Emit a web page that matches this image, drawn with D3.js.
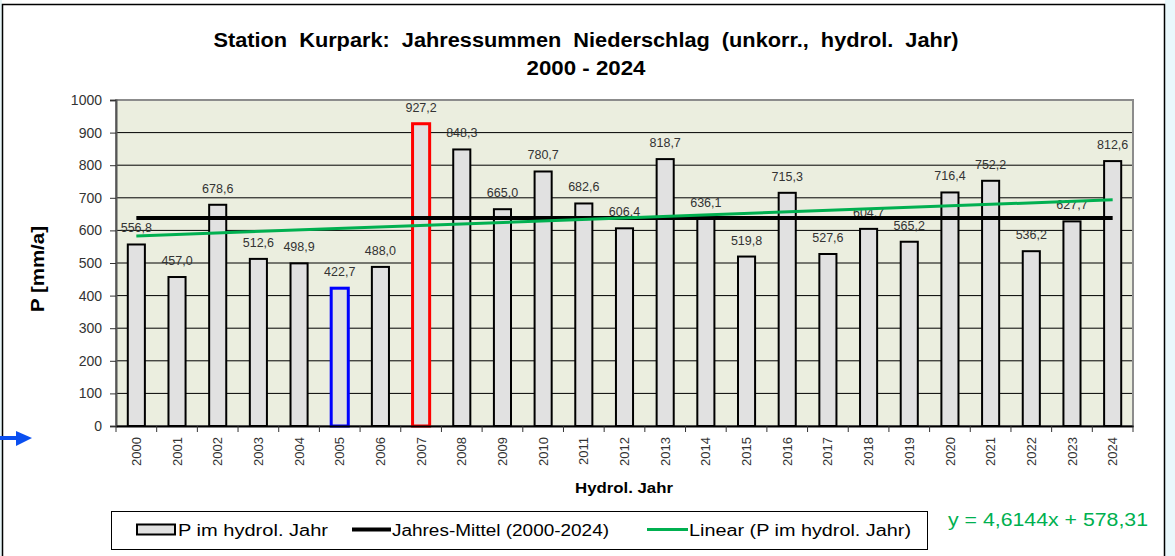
<!DOCTYPE html>
<html>
<head>
<meta charset="utf-8">
<script src="https://cdn.jsdelivr.net/npm/d3@7"></script>
<style>
  body { margin: 0; background: #fff; }
  svg { display: block; font-family: "Liberation Sans", Arial, sans-serif; }
</style>
</head>
<body>
<svg id="chart" width="1175" height="556"></svg>
<script>
// data
const years = d3.range(2000, 2025);
const precip = [556.8, 457.0, 678.6, 512.6, 498.9, 422.7, 488.0, 927.2, 848.3, 665.0,
                780.7, 682.6, 606.4, 818.7, 636.1, 519.8, 715.3, 527.6, 604.7, 565.2,
                716.4, 752.2, 536.2, 627.7, 812.6];
const yTicks = d3.range(0, 1001, 100);
const meanValue = 638.3;           // Jahres-Mittel (2000-2024)
const trendSlope = 4.6144;         // y = 4,6144x + 578,31
const trendIntercept = 578.31;
const highlight = { 2005: '#0000ff', 2007: '#ff0000' };

const data = years.map((y, i) => ({ year: y, value: precip[i] }));

const svg = d3.select('#chart');

// page frame bits from the screenshot
svg.append('rect').attr('x', 1165).attr('y', 0).attr('width', 10).attr('height', 556).attr('fill', '#eaf8fc');
svg.append('rect').attr('x', 0).attr('y', 0).attr('width', 2).attr('height', 556).attr('fill', '#e6f4f6');
svg.append('path').attr('d', 'M2.5,556V4.5H1164.5V556')
    .attr('fill', 'none').attr('stroke', '#000').attr('stroke-width', 1.5);

// blue arrow on the left
svg.append('line').attr('x1', 0).attr('x2', 18).attr('y1', 438).attr('y2', 438)
    .attr('stroke', '#0a4ff0').attr('stroke-width', 4);
svg.append('path').attr('d', 'M16,431L32,438L16,446Z').attr('fill', '#0a4ff0');

// plot area
const plot = { left: 116, right: 1133, top: 100, bottom: 426 };

const x = d3.scaleBand()
    .domain(years)
    .range([plot.left, plot.right])
    .paddingInner(0.58)
    .paddingOuter(0.29);

const y = d3.scaleLinear()
    .domain([0, 1000])
    .range([plot.bottom, plot.top]);

const step = x.step();
const cx = d => x(d) + x.bandwidth() / 2;

svg.append('rect')
    .attr('x', plot.left).attr('y', plot.top)
    .attr('width', plot.right - plot.left).attr('height', plot.bottom - plot.top)
    .attr('fill', '#ebeedf');

// gridlines
svg.append('g')
    .selectAll('line')
    .data(yTicks.filter(t => t > 0 && t < 1000))
    .join('line')
    .attr('x1', plot.left).attr('x2', plot.right)
    .attr('y1', d => y(d)).attr('y2', d => y(d))
    .attr('stroke', '#000').attr('stroke-width', 1);

// plot border
svg.append('rect')
    .attr('x', plot.left).attr('y', plot.top)
    .attr('width', plot.right - plot.left).attr('height', plot.bottom - plot.top)
    .attr('fill', 'none').attr('stroke', '#8c8c8c').attr('stroke-width', 2);

// bars
svg.append('g')
    .selectAll('rect')
    .data(data)
    .join('rect')
    .attr('x', d => x(d.year))
    .attr('y', d => y(d.value))
    .attr('width', x.bandwidth())
    .attr('height', d => y(0) - y(d.value))
    .attr('fill', '#e1e1e1')
    .attr('stroke', d => highlight[d.year] || '#000')
    .attr('stroke-width', d => highlight[d.year] ? 3 : 2);

// value labels
const fmt = d3.formatLocale({ decimal: ',', thousands: '.', grouping: [3], currency: ['', '€'] }).format('.1f');
svg.append('g')
    .selectAll('text')
    .data(data)
    .join('text')
    .attr('x', d => cx(d.year))
    .attr('y', d => y(d.value) - 12)
    .attr('text-anchor', 'middle')
    .attr('font-size', 12.5)
    .attr('fill', '#333')
    .text(d => fmt(d.value));

// mean line
svg.append('line')
    .attr('x1', cx(years[0])).attr('x2', cx(years[years.length - 1]))
    .attr('y1', y(meanValue)).attr('y2', y(meanValue))
    .attr('stroke', '#000').attr('stroke-width', 4);

// linear trend
const trendLine = d3.line()
    .x(d => cx(d))
    .y(d => y(trendSlope * (years.indexOf(d) + 1) + trendIntercept));
svg.append('path')
    .datum([years[0], years[years.length - 1]])
    .attr('d', trendLine)
    .attr('fill', 'none').attr('stroke', '#00b050').attr('stroke-width', 3);

// y axis
const yAxis = svg.append('g')
    .attr('transform', `translate(${plot.left},0)`)
    .call(d3.axisLeft(y).tickValues(yTicks).tickFormat(d3.format('d')).tickSize(6).tickPadding(8));
yAxis.select('.domain').attr('stroke', '#555').attr('stroke-width', 2);
yAxis.selectAll('.tick line').attr('stroke', '#333');
yAxis.selectAll('.tick text').attr('font-size', 14).attr('fill', '#333')
    .attr('font-family', '"Liberation Sans", Arial, sans-serif');

// x axis: labels at band centres, ticks at band edges
const xAxis = svg.append('g')
    .attr('transform', `translate(0,${plot.bottom})`)
    .call(d3.axisBottom(x).tickSize(0).tickPadding(0));
xAxis.select('.domain').attr('stroke', '#000').attr('stroke-width', 2);
xAxis.selectAll('.tick text')
    .attr('font-size', 13).attr('fill', '#333')
    .attr('font-family', '"Liberation Sans", Arial, sans-serif')
    .attr('transform', 'rotate(-90)')
    .attr('text-anchor', 'end')
    .attr('x', -11).attr('y', 0).attr('dy', '0.35em');
svg.append('g')
    .selectAll('line')
    .data(years.concat([null]))
    .join('line')
    .attr('x1', (d, i) => plot.left + i * step).attr('x2', (d, i) => plot.left + i * step)
    .attr('y1', plot.bottom).attr('y2', plot.bottom + 6)
    .attr('stroke', '#333');

// titles
svg.append('text')
    .attr('x', 586).attr('y', 47).attr('text-anchor', 'middle')
    .attr('font-size', 20).attr('font-weight', 'bold')
    .style('white-space', 'pre')
    .attr('textLength', 745).attr('lengthAdjust', 'spacingAndGlyphs')
    .text('Station  Kurpark:  Jahressummen  Niederschlag  (unkorr.,  hydrol.  Jahr)');
svg.append('text')
    .attr('x', 586).attr('y', 75).attr('text-anchor', 'middle')
    .attr('font-size', 20).attr('font-weight', 'bold')
    .attr('textLength', 119).attr('lengthAdjust', 'spacingAndGlyphs')
    .text('2000 - 2024');

svg.append('text')
    .attr('transform', 'translate(44,269) rotate(-90)')
    .attr('text-anchor', 'middle')
    .attr('font-size', 18).attr('font-weight', 'bold')
    .attr('textLength', 86).attr('lengthAdjust', 'spacingAndGlyphs')
    .text('P [mm/a]');

svg.append('text')
    .attr('x', 624).attr('y', 493).attr('text-anchor', 'middle')
    .attr('font-size', 15).attr('font-weight', 'bold')
    .attr('textLength', 98).attr('lengthAdjust', 'spacingAndGlyphs')
    .text('Hydrol. Jahr');

// legend
const legend = svg.append('g');
legend.append('rect')
    .attr('x', 111.5).attr('y', 511.5).attr('width', 816).attr('height', 38)
    .attr('fill', '#fff').attr('stroke', '#000').attr('stroke-width', 1);
legend.append('rect')
    .attr('x', 137).attr('y', 524.5).attr('width', 38).attr('height', 10)
    .attr('fill', '#e1e1e1').attr('stroke', '#000').attr('stroke-width', 2);
legend.append('line').attr('x1', 352).attr('x2', 391).attr('y1', 529.5).attr('y2', 529.5)
    .attr('stroke', '#000').attr('stroke-width', 4);
legend.append('line').attr('x1', 647).attr('x2', 688).attr('y1', 529.5).attr('y2', 529.5)
    .attr('stroke', '#00b050').attr('stroke-width', 3);
const legendItems = [
    { label: 'P im hydrol. Jahr', x: 178, w: 150 },
    { label: 'Jahres-Mittel (2000-2024)', x: 392, w: 217 },
    { label: 'Linear (P im hydrol. Jahr)', x: 689, w: 222 }
];
legend.selectAll('text.item')
    .data(legendItems)
    .join('text')
    .attr('class', 'item')
    .attr('x', d => d.x).attr('y', 535.5)
    .attr('font-size', 16)
    .attr('textLength', d => d.w).attr('lengthAdjust', 'spacingAndGlyphs')
    .text(d => d.label);

// trend equation
svg.append('text')
    .attr('x', 948).attr('y', 526)
    .attr('font-size', 18).attr('fill', '#00b050')
    .attr('textLength', 200).attr('lengthAdjust', 'spacingAndGlyphs')
    .text('y = 4,6144x + 578,31');
</script>
</body>
</html>
